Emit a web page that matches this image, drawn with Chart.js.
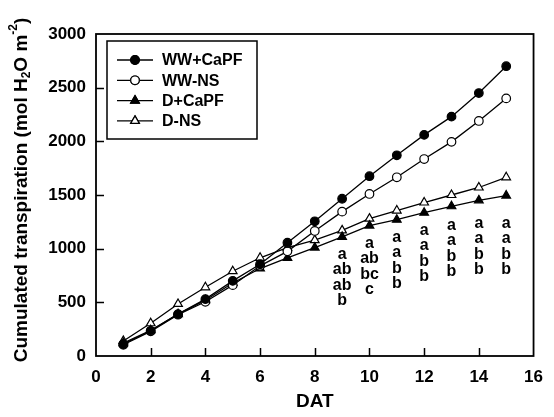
<!DOCTYPE html>
<html>
<head>
<meta charset="utf-8">
<script src="https://cdn.jsdelivr.net/npm/chart.js@4.4.1/dist/chart.umd.min.js"></script>
<style>
  html, body { margin: 0; padding: 0; background: #fff; }
  #wrap { width: 554px; height: 417px; position: relative; }
</style>
</head>
<body>
<div id="wrap"><canvas id="chart" width="554" height="417"></canvas></div>
<script>
// Data
const days = [1, 2, 3, 4, 5, 6, 7, 8, 9, 10, 11, 12, 13, 14, 15];
const wwCapf = [110, 235, 390, 530, 700, 855, 1055, 1255, 1465, 1675, 1870, 2060, 2230, 2450, 2700];
const wwNs   = [105, 230, 385, 505, 660, 840, 975, 1165, 1345, 1510, 1665, 1835, 1995, 2190, 2400];
const dCapf  = [120, 240, 390, 520, 680, 815, 915, 1010, 1110, 1215, 1270, 1335, 1395, 1450, 1495];
const dNs    = [140, 305, 485, 640, 790, 915, 1010, 1080, 1170, 1280, 1355, 1430, 1500, 1570, 1665];

const seriesNames = ["WW+CaPF", "WW-NS", "D+CaPF", "D-NS"];

const xTicks = [0, 2, 4, 6, 8, 10, 12, 14, 16];
const yTicks = [0, 500, 1000, 1500, 2000, 2500, 3000];

// significance letters, one column per day from day 9
const letterDays = [9, 10, 11, 12, 13, 14, 15];
const letterTop  = [947, 1050, 1105, 1170, 1217, 1235, 1235];
const letters = [
  ["a", "ab", "ab", "b"],
  ["a", "ab", "bc", "c"],
  ["a", "a", "b", "b"],
  ["a", "a", "b", "b"],
  ["a", "a", "b", "b"],
  ["a", "a", "b", "b"],
  ["a", "a", "b", "b"],
];

const FONT = "'Liberation Sans', Arial, sans-serif";

const toPoints = (vals) => days.map((d, i) => ({ x: d, y: vals[i] }));

const mkSet = (label, vals, style, filled) => ({
  label,
  data: toPoints(vals),
  borderColor: "#000",
  borderWidth: 1.3,
  pointStyle: style,
  pointRadius: style === "triangle" ? 5 : 4.3,
  pointBorderWidth: 1.2,
  pointBorderColor: "#000",
  pointBackgroundColor: filled ? "#000" : "#fff",
  tension: 0,
  fill: false,
});

// frame, inward ticks, y title, legend box and letters
const decor = {
  id: "decor",
  afterDraw(chart) {
    const ctx = chart.ctx;
    const { left, right, top, bottom } = chart.chartArea;
    const xs = chart.scales.x, ys = chart.scales.y;

    ctx.save();
    ctx.strokeStyle = "#000";
    ctx.lineWidth = 1.8;
    ctx.strokeRect(left, top, right - left, bottom - top);

    ctx.lineWidth = 1.5;
    ctx.beginPath();
    xTicks.slice(1, -1).forEach((t) => {
      const px = Math.round(xs.getPixelForValue(t)) + 0.5;
      ctx.moveTo(px, bottom);
      ctx.lineTo(px, bottom - 8);
    });
    yTicks.slice(1, -1).forEach((t) => {
      const py = Math.round(ys.getPixelForValue(t)) + 0.5;
      ctx.moveTo(left, py);
      ctx.lineTo(left + 8, py);
    });
    ctx.stroke();

    // y title with sub/superscripts
    const big = "bold 19px " + FONT, small = "bold 12px " + FONT;
    const parts = [
      ["Cumulated transpiration (mol H", big, 0],
      ["2", small, 5],
      ["O m", big, 0],
      ["-2", small, -8],
      [")", big, 0],
    ];
    let total = 0;
    parts.forEach((p) => { ctx.font = p[1]; total += ctx.measureText(p[0]).width; });
    ctx.translate(22, 190);
    ctx.rotate(-Math.PI / 2);
    ctx.fillStyle = "#000";
    ctx.textBaseline = "middle";
    ctx.textAlign = "left";
    let cx = -total / 2;
    parts.forEach((p) => {
      ctx.font = p[1];
      ctx.fillText(p[0], cx, p[2]);
      cx += ctx.measureText(p[0]).width;
    });
    ctx.setTransform(1, 0, 0, 1, 0, 0);

    // legend
    const lx = left + 11, ly = top + 7;
    ctx.lineWidth = 1.5;
    ctx.strokeRect(lx, ly, 150, 98);
    ctx.font = "bold 16px " + FONT;
    ctx.textBaseline = "middle";
    chart.data.datasets.forEach((ds, i) => {
      const y = ly + 19 + i * 20.3;
      ctx.lineWidth = 1.3;
      ctx.beginPath();
      ctx.moveTo(lx + 10, y);
      ctx.lineTo(lx + 46, y);
      ctx.stroke();
      ctx.fillStyle = ds.pointBackgroundColor;
      ctx.lineWidth = 1.2;
      Chart.helpers.drawPoint(ctx, { pointStyle: ds.pointStyle, radius: ds.pointRadius, borderWidth: 1.2 }, lx + 28, y);
      ctx.fill();
      ctx.stroke();
      ctx.fillStyle = "#000";
      ctx.fillText(ds.label, lx + 55, y + 1);
    });

    // letters
    ctx.textAlign = "center";
    letterDays.forEach((d, i) => {
      const px = xs.getPixelForValue(d);
      const py = ys.getPixelForValue(letterTop[i]);
      letters[i].forEach((s, j) => ctx.fillText(s, px, py + j * 15.5));
    });
    ctx.restore();
  },
};

new Chart(document.getElementById("chart"), {
  type: "line",
  data: {
    datasets: [
      mkSet(seriesNames[0], wwCapf, "circle", true),
      mkSet(seriesNames[1], wwNs, "circle", false),
      mkSet(seriesNames[2], dCapf, "triangle", true),
      mkSet(seriesNames[3], dNs, "triangle", false),
    ],
  },
  options: {
    responsive: false,
    animation: false,
    layout: { padding: { top: 34, right: 11, left: 0, bottom: 0 } },
    plugins: { legend: { display: false }, tooltip: { enabled: false } },
    scales: {
      x: {
        type: "linear",
        min: 0,
        max: 16,
        afterBuildTicks: (s) => { s.ticks = xTicks.map((v) => ({ value: v })); },
        afterFit: (s) => { s.height = 61; },
        grid: { display: false, drawTicks: false },
        border: { display: false },
        ticks: { color: "#000", padding: 11, callback: (v) => String(v), font: { family: FONT, size: 17, weight: "bold" } },
        title: { display: true, text: "DAT", color: "#000", padding: { top: 13 }, font: { family: FONT, size: 19, weight: "bold" } },
      },
      y: {
        min: 0,
        max: 3000,
        afterBuildTicks: (s) => { s.ticks = yTicks.map((v) => ({ value: v })); },
        afterFit: (s) => { s.width = 96; },
        grid: { display: false, drawTicks: false },
        border: { display: false },
        ticks: { color: "#000", padding: 10, callback: (v) => String(v), font: { family: FONT, size: 17, weight: "bold" } },
      },
    },
  },
  plugins: [decor],
});
</script>
</body>
</html>
